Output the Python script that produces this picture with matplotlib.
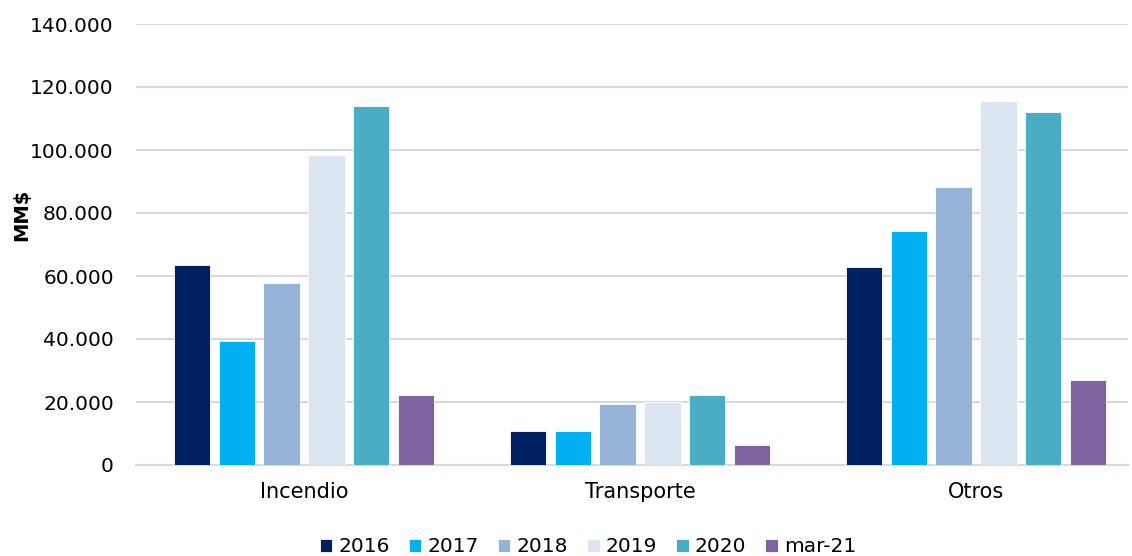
import matplotlib
matplotlib.use("Agg")
import matplotlib.pyplot as plt
import numpy as np
from matplotlib.ticker import FuncFormatter

categories = ["Incendio", "Transporte", "Otros"]
series_names = ["2016", "2017", "2018", "2019", "2020", "mar-21"]
v2016 = [63500, 10800, 63000]
v2017 = [39400, 10800, 74400]
v2018 = [57800, 19400, 88300]
v2019 = [98400, 20000, 115700]
v2020 = [114000, 22100, 112100]
vmar21 = [22200, 6300, 27000]
series_values = [v2016, v2017, v2018, v2019, v2020, vmar21]
colors = ["#002060", "#00B0F0", "#95B3D7", "#DCE6F2", "#4BACC6", "#8064A2"]

plt.rcParams['font.family'] = ['DejaVu Sans']
fig = plt.figure(figsize=(11.32, 5.56), dpi=100)
ax = fig.add_axes([136/1132, 91/556, (1128-136)/1132, (465-24)/556])

x = np.arange(len(categories))
step = 0.1334
for i, (name, vals, c) in enumerate(zip(series_names, series_values, colors)):
    offs = (i - 2.5) * step
    ax.bar(x + offs, vals, width=0.108, color=c, edgecolor="white", linewidth=0.6, label=name, zorder=3)

ax.set_ylim(0, 140000)
ax.set_xlim(-0.5, 2.5 - (1144 - 1128) / 336.5)
ax.set_yticks(np.arange(0, 140001, 20000))
ax.yaxis.set_major_formatter(FuncFormatter(lambda v, p: "0" if v == 0 else f"{int(v):,}".replace(",", ".")))
ax.set_xticks(x)
ax.set_xticklabels(categories)
ax.grid(axis="y", color="#D9D9D9", linewidth=1.5, zorder=0)
for s in ["top", "right", "left"]:
    ax.spines[s].set_visible(False)
ax.spines["bottom"].set_color("#D9D9D9")
ax.spines["bottom"].set_linewidth(1.5)
ax.tick_params(axis="y", length=0, labelsize=14.5, colors="#000000", pad=16)
ax.tick_params(axis="x", length=0, labelsize=15, colors="#000000", pad=12)

fig.text(22/1132, 1 - 215/556, "MM$", rotation=90, fontsize=14, fontweight="bold",
         ha="center", va="center")

leg = fig.legend(loc="center", ncol=6, bbox_to_anchor=(588/1132, 1 - 547/556), frameon=False,
                 fontsize=14.5, handlelength=0.62, handleheight=0.62, handletextpad=0.3,
                 columnspacing=0.95, borderaxespad=0)
fig.savefig("out.png", dpi=100)
